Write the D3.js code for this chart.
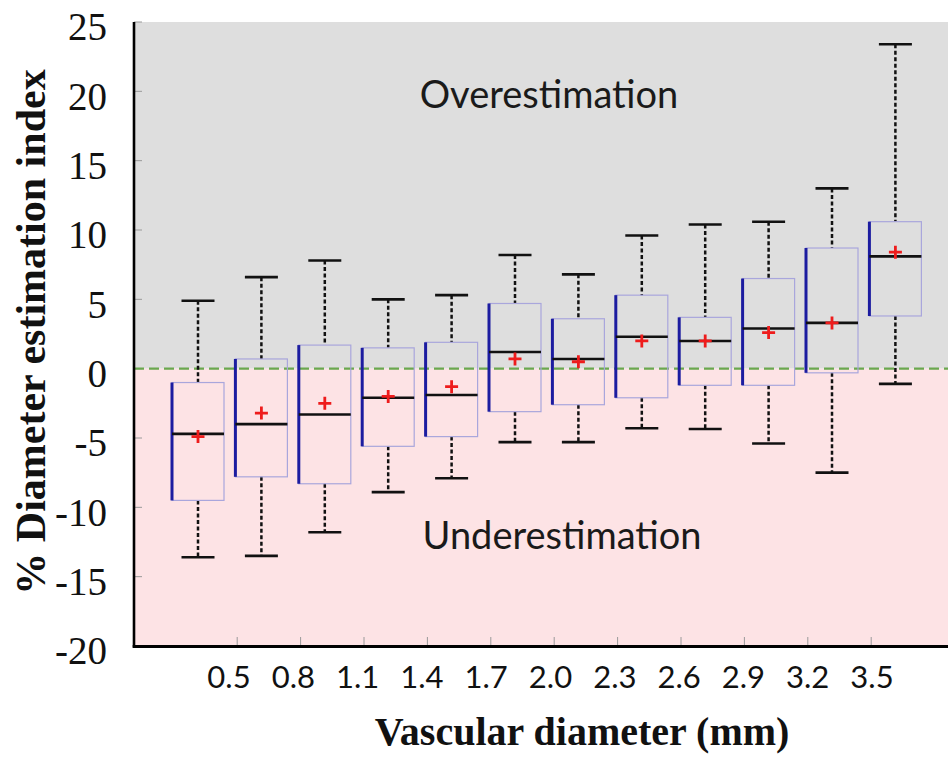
<!DOCTYPE html>
<html>
<head>
<meta charset="utf-8">
<script src="https://cdn.jsdelivr.net/npm/d3@7"></script>
<style>
  html, body { margin: 0; padding: 0; background: #fff; }
  svg { display: block; }
</style>
</head>
<body>
<svg id="chart" width="948" height="758"></svg>
<script>
// ---- data ----
const groups = ["<0.5", "0.5-0.8", "0.8-1.1", "1.1-1.4", "1.4-1.7", "1.7-2.0", "2.0-2.3", "2.3-2.6", "2.6-2.9", "2.9-3.2", "3.2-3.5", ">3.5"];
const tickLabels = ["0.5", "0.8", "1.1", "1.4", "1.7", "2.0", "2.3", "2.6", "2.9", "3.2", "3.5"];
const yTicks = [-20, -15, -10, -5, 0, 5, 10, 15, 20, 25];
const whiskerHigh = [4.9, 6.6, 7.8, 5.0, 5.3, 8.2, 6.8, 9.6, 10.4, 10.6, 13.0, 23.4];
const q3 = [-1.0, 0.7, 1.7, 1.5, 1.9, 4.7, 3.6, 5.3, 3.7, 6.5, 8.7, 10.6];
const median = [-4.7, -4.0, -3.3, -2.1, -1.9, 1.2, 0.7, 2.3, 2.0, 2.9, 3.3, 8.1];
const mean = [-4.9, -3.2, -2.5, -2.0, -1.3, 0.7, 0.5, 2.0, 2.0, 2.6, 3.3, 8.4];
const q1 = [-9.5, -7.8, -8.3, -5.6, -4.9, -3.1, -2.6, -2.1, -1.2, -1.2, -0.3, 3.8];
const whiskerLow = [-13.6, -13.5, -11.8, -8.9, -7.9, -5.3, -5.3, -4.3, -4.35, -5.4, -7.5, -1.1];

const boxes = groups.map((g, i) => ({
  g, hi: whiskerHigh[i], q3: q3[i], med: median[i], mean: mean[i], q1: q1[i], lo: whiskerLow[i]
}));

// ---- layout ----
const svg = d3.select("#chart");
const plotL = 134, plotR = 948, plotT = 22, plotB = 646;

const y = d3.scaleLinear().domain([-20, 25]).range([plotB, plotT]);
const x = d3.scalePoint().domain(groups).range([198, 895.4]);
const xTick = d3.scalePoint().domain(tickLabels).range([236.7, 870.7]);
const xLab = d3.scalePoint().domain(tickLabels).range([229, 872]);
const halfW = 26, capHalf = 16.5;

// backgrounds
svg.append("rect").attr("x", plotL).attr("y", y(25)).attr("width", plotR - plotL)
  .attr("height", y(0) - y(25)).attr("fill", "#dedede");
svg.append("rect").attr("x", plotL).attr("y", y(0)).attr("width", plotR - plotL)
  .attr("height", y(-20) - y(0)).attr("fill", "#fde3e5");

// annotations
svg.append("text").attr("x", 549).attr("y", 108).attr("text-anchor", "middle")
  .attr("font-family", "Lato, 'Open Sans', sans-serif").attr("font-size", 38)
  .attr("fill", "#1a1a1a").text("Overestimation");
svg.append("text").attr("x", 562).attr("y", 549).attr("text-anchor", "middle")
  .attr("font-family", "Lato, 'Open Sans', sans-serif").attr("font-size", 38)
  .attr("fill", "#1a1a1a").text("Underestimation");

// y axis
const yAxis = d3.axisLeft(y).tickValues(yTicks).tickSize(0).tickPadding(0).tickFormat(d => String(d));
const yg = svg.append("g").attr("transform", `translate(${plotL},0)`).call(yAxis);
yg.select(".domain").remove();
yg.selectAll("text").attr("x", -27).attr("dy", "0.46em")
  .attr("font-family", "'Liberation Serif', 'Times New Roman', serif")
  .attr("font-size", 39).attr("fill", "#111");
// inner small ticks
svg.append("g").selectAll("line").data(yTicks.filter(d => d > -20)).join("line")
  .attr("x1", plotL).attr("x2", plotL + 8)
  .attr("y1", d => y(d)).attr("y2", d => y(d))
  .attr("stroke", "#9a9a9a").attr("stroke-width", 1);

// x axis ticks (inside, upward)
const xAxis = d3.axisTop(xTick).tickSize(8).tickFormat("");
const xg = svg.append("g").attr("transform", `translate(0,${plotB - 1})`).call(xAxis);
xg.select(".domain").remove();
xg.selectAll("line").attr("stroke", "#9a9a9a").attr("stroke-width", 1);

// x tick labels
svg.append("g").selectAll("text").data(tickLabels).join("text")
  .attr("x", d => xLab(d)).attr("y", 688).attr("text-anchor", "middle")
  .attr("font-family", "Lato, 'Open Sans', sans-serif").attr("font-size", 31)
  .attr("fill", "#111").text(d => d);

// zero dashed line
svg.append("line").attr("x1", plotL).attr("x2", plotR)
  .attr("y1", y(0)).attr("y2", y(0))
  .attr("stroke", "#6aa84f").attr("stroke-width", 2.2).attr("stroke-dasharray", "10,5");

// boxes
const bg = svg.append("g").selectAll("g").data(boxes).join("g")
  .attr("transform", d => `translate(${x(d.g)},0)`);

// whiskers
bg.append("line").attr("x1", 0).attr("x2", 0)
  .attr("y1", d => y(d.hi)).attr("y2", d => y(d.q3))
  .attr("stroke", "#111").attr("stroke-width", 2.5).attr("stroke-dasharray", "4,2.5");
bg.append("line").attr("x1", 0).attr("x2", 0)
  .attr("y1", d => y(d.q1)).attr("y2", d => y(d.lo))
  .attr("stroke", "#111").attr("stroke-width", 2.5).attr("stroke-dasharray", "4,2.5");
// caps
bg.append("line").attr("x1", -capHalf).attr("x2", capHalf)
  .attr("y1", d => y(d.hi)).attr("y2", d => y(d.hi))
  .attr("stroke", "#111").attr("stroke-width", 2.6);
bg.append("line").attr("x1", -capHalf).attr("x2", capHalf)
  .attr("y1", d => y(d.lo)).attr("y2", d => y(d.lo))
  .attr("stroke", "#111").attr("stroke-width", 2.6);
// box outline
bg.append("rect").attr("x", -halfW).attr("width", 2 * halfW)
  .attr("y", d => y(d.q3)).attr("height", d => y(d.q1) - y(d.q3))
  .attr("fill", "none").attr("stroke", "#a9a6dc").attr("stroke-width", 1.2);
// left edge thick dark blue
bg.append("line").attr("x1", -halfW).attr("x2", -halfW)
  .attr("y1", d => y(d.q3)).attr("y2", d => y(d.q1))
  .attr("stroke", "#1c1ca0").attr("stroke-width", 3);
// median
bg.append("line").attr("x1", -halfW).attr("x2", halfW)
  .attr("y1", d => y(d.med)).attr("y2", d => y(d.med))
  .attr("stroke", "#111").attr("stroke-width", 2.6);
// mean marker "+"
bg.append("path")
  .attr("d", d => `M-6.5,${y(d.mean)}H6.5M0,${y(d.mean) - 6.5}V${y(d.mean) + 6.5}`)
  .attr("stroke", "#ee1c1c").attr("stroke-width", 2.8).attr("fill", "none");

// axis lines
svg.append("line").attr("x1", plotL).attr("x2", plotL).attr("y1", plotT).attr("y2", plotB + 1.5)
  .attr("stroke", "#000").attr("stroke-width", 2.6);
svg.append("line").attr("x1", plotL - 1.3).attr("x2", plotR).attr("y1", plotB + 0.5).attr("y2", plotB + 0.5)
  .attr("stroke", "#000").attr("stroke-width", 3.2);

// axis titles
svg.append("text").attr("x", 582).attr("y", 745).attr("text-anchor", "middle")
  .attr("font-family", "'Liberation Serif', 'Times New Roman', serif").attr("font-weight", "bold")
  .attr("font-size", 40).attr("fill", "#111").text("Vascular diameter (mm)");
svg.append("text").attr("transform", "translate(45,332) rotate(-90)").attr("text-anchor", "middle")
  .attr("font-family", "'Liberation Serif', 'Times New Roman', serif").attr("font-weight", "bold")
  .attr("font-size", 42).attr("fill", "#111").text("% Diameter estimation index");
</script>
</body>
</html>
